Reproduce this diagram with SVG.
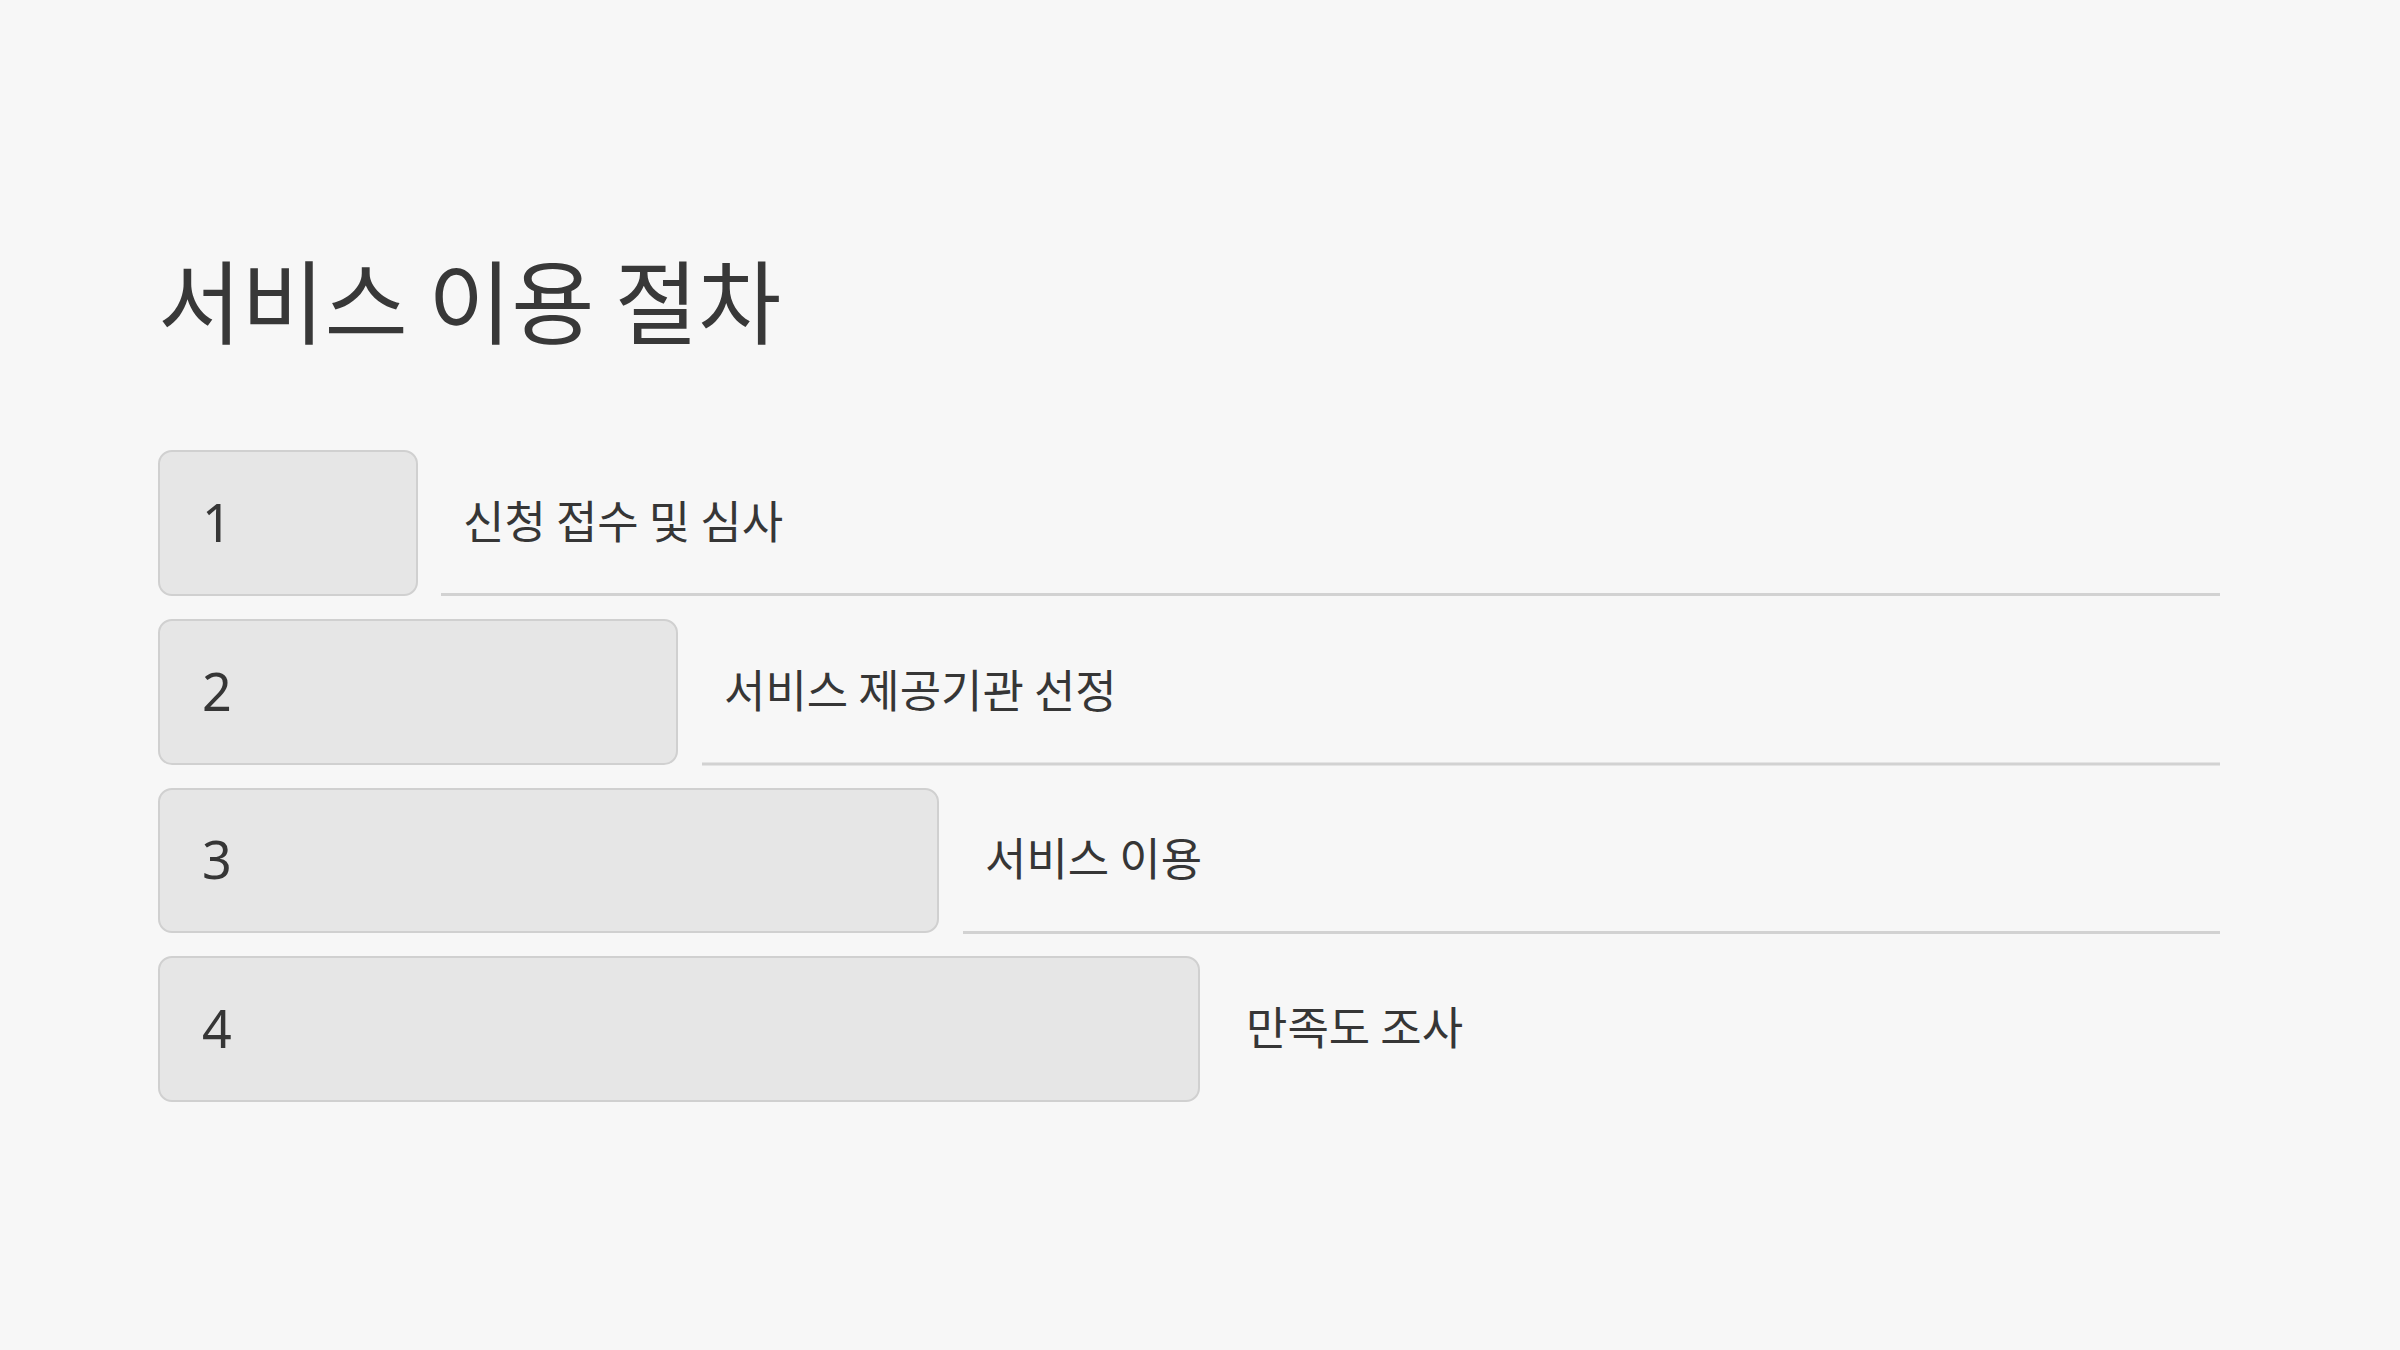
<svg xmlns="http://www.w3.org/2000/svg" width="2400" height="1350" viewBox="0 0 2400 1350">
<style>
.box{fill:#e6e6e6;stroke:#d0d0d0;stroke-width:2}
.num{font-family:"Noto Sans","Noto Sans CJK KR",sans-serif;font-size:52px;fill:#363636}
.lbl{font-family:"Noto Sans CJK KR","Noto Sans",sans-serif;font-size:45px;fill:#363636}
.title{font-family:"Noto Sans CJK KR","Noto Sans",sans-serif;font-size:90.5px;fill:#383838}
.rule{stroke:#d2d2d2;stroke-width:3;fill:none}
</style>
<rect width="2400" height="1350" fill="#f7f7f7"/>
<text class="title" x="158" y="337">서비스 이용 절차</text>
<g id="connectors">
<line class="rule" x1="441" y1="594.5" x2="2220" y2="594.5"/>
<line class="rule" x1="702" y1="764" x2="2220" y2="764"/>
<line class="rule" x1="963" y1="932.5" x2="2220" y2="932.5"/>
</g>
<g id="step1">
<rect class="box" x="159" y="451" width="258" height="144" rx="13"/>
<text class="num" x="202" y="542">1</text>
<text class="lbl" x="463" y="539">신청 접수 및 심사</text>
</g>
<g id="step2">
<rect class="box" x="159" y="620" width="518" height="144" rx="13"/>
<text class="num" x="202" y="711">2</text>
<text class="lbl" x="724" y="708">서비스 제공기관 선정</text>
</g>
<g id="step3">
<rect class="box" x="159" y="789" width="779" height="143" rx="13"/>
<text class="num" x="202" y="879">3</text>
<text class="lbl" x="985" y="876">서비스 이용</text>
</g>
<g id="step4">
<rect class="box" x="159" y="957" width="1040" height="144" rx="13"/>
<text class="num" x="202" y="1048">4</text>
<text class="lbl" x="1246" y="1045">만족도 조사</text>
</g>
</svg>
